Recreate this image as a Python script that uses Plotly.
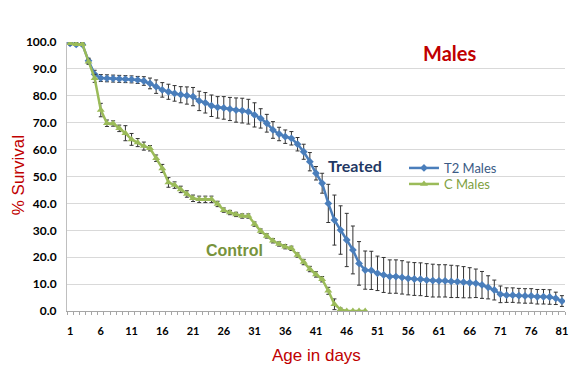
import plotly.graph_objects as go

days_t = list(range(1, 82))
treated = [99.5, 99.1, 99.1, 93.0, 88.0, 86.6, 86.5, 86.4, 86.3, 86.2,
           86.1, 85.9, 85.5, 84.6, 83.4, 82.2, 81.5, 80.9, 80.4, 80.1,
           79.7, 78.1, 77.4, 76.3, 75.7, 75.5, 75.1, 74.7, 74.5, 74.1,
           72.9, 71.6, 69.8, 67.3, 65.8, 64.8, 64.2, 62.0, 59.2, 55.5,
           51.2, 47.5, 40.0, 33.8, 30.1, 26.4, 22.7, 17.7, 15.2, 15.1,
           14.0, 13.4, 12.8, 12.8, 12.5, 12.1, 11.9, 11.8, 11.5, 11.3,
           11.2, 11.2, 11.0, 10.9, 10.7, 10.5, 10.3, 9.7, 8.8, 7.8,
           6.2, 5.9, 5.9, 5.7, 5.6, 5.6, 5.3, 5.3, 5.2, 4.7, 3.7]
treated_err = [0.5, 0.5, 0.5, 1.0, 1.5, 1.3, 1.3, 1.3, 1.3, 1.3,
               1.3, 1.3, 1.6, 2.0, 2.5, 2.7, 2.8, 2.9, 3.0, 3.2,
               3.4, 3.6, 3.8, 4.0, 4.0, 4.2, 4.3, 4.5, 4.6, 4.6,
               4.5, 3.6, 3.3, 3.1, 2.5, 2.5, 2.5, 2.5, 2.8, 3.4,
               2.5, 3.7, 7.1, 9.3, 9.0, 9.9, 8.9, 8.1, 7.1, 7.1,
               6.4, 6.5, 6.2, 6.2, 6.2, 6.1, 6.1, 6.1, 6.1, 6.1,
               6.0, 6.0, 6.0, 5.9, 5.8, 5.6, 5.3, 5.0, 4.3, 3.7,
               3.1, 2.7, 2.7, 2.7, 2.7, 2.7, 2.7, 2.7, 2.7, 2.3, 2.0]

days_c = list(range(1, 50))
control = [99.5, 99.2, 99.2, 92.7, 86.5, 74.7, 69.8, 69.7, 67.9, 66.1,
           63.8, 62.6, 61.3, 60.5, 56.8, 53.0, 47.8, 46.8, 45.2, 43.5,
           41.9, 41.5, 41.5, 41.5, 39.8, 37.5, 36.6, 35.9, 35.3, 35.3,
           32.3, 29.7, 27.9, 26.1, 24.9, 23.9, 23.3, 20.8, 18.2, 15.6,
           13.6, 11.8, 7.5, 2.5, 0.6, 0.0, 0.0, 0.0, 0.0]
control_err = [0.5, 0.5, 0.5, 1.0, 1.5, 2.5, 1.2, 1.0, 1.2, 2.8,
               2.2, 1.5, 1.5, 1.0, 1.2, 1.5, 1.8, 1.2, 1.2, 1.2,
               1.2, 1.2, 1.2, 1.2, 1.0, 0.8, 0.8, 0.8, 0.8, 0.8,
               0.8, 0.8, 0.8, 0.8, 0.8, 0.8, 0.8, 0.8, 1.0, 1.0,
               1.0, 1.0, 1.3, 2.0, 0.5, 0.0, 0.0, 0.0, 0.0]

x_tick_vals = list(range(1, 82, 5))
y_tick_vals = list(range(0, 101, 10))
y_tick_text = [f"{v:.1f}" for v in y_tick_vals]

BLUE = "#4A7EBB"
GREEN = "#9BBB59"
RED = "#C00000"

fig = go.Figure()
fig.add_trace(go.Scatter(
    x=days_t, y=treated, mode="lines+markers",
    name="<span style='color:#3B5B85'>T2 Males</span>",
    legend="legend",
    line=dict(color=BLUE, width=2.5),
    marker=dict(symbol="diamond", size=6, color=BLUE),
    error_y=dict(type="data", array=treated_err, visible=True,
                 color="#333333", thickness=1, width=2),
))
fig.add_trace(go.Scatter(
    x=days_c, y=control, mode="lines+markers",
    name="<span style='color:#7F9F3F'>C Males</span>",
    legend="legend2",
    line=dict(color=GREEN, width=2.5),
    marker=dict(symbol="triangle-up", size=7, color=GREEN),
    error_y=dict(type="data", array=control_err, visible=True,
                 color="#333333", thickness=1, width=2),
))

leg_common = dict(xanchor="left", yanchor="top",
                  font=dict(family="Lato", size=13), bgcolor="rgba(0,0,0,0)",
                  itemwidth=30)

fig.update_layout(
    width=580, height=370,
    margin=dict(l=67, r=12, t=42, b=59),
    paper_bgcolor="white", plot_bgcolor="white",
    showlegend=True,
    legend=dict(x=(406 - 67) / 501, y=(311 - 153) / 269, **leg_common),
    legend2=dict(x=(406 - 67) / 501, y=(311 - 169) / 269, **leg_common),
    xaxis=dict(range=[0.5, 81.5], tickmode="array", tickvals=x_tick_vals,
               ticktext=[str(v) for v in x_tick_vals], ticks="",
               showgrid=False, zeroline=False, showline=True,
               linecolor="#A6A6A6", linewidth=1,
               tickfont=dict(family="Lato", size=11, color="black", weight="bold"),
               minor=dict(tick0=0.5, dtick=1, ticks="outside", ticklen=3,
                          tickcolor="#A6A6A6", showgrid=False),
               ticklabelstandoff=10),
    yaxis=dict(range=[0, 100], tickmode="array", tickvals=y_tick_vals,
               ticktext=y_tick_text, ticks="",
               showgrid=True, gridcolor="#D9D9D9", gridwidth=1,
               zeroline=False, showline=True, linecolor="#BFBFBF", linewidth=1,
               tickfont=dict(family="Lato", size=12, color="black", weight="bold"),
               ticklabelstandoff=7),
    annotations=[
        dict(text="% Survival", xref="paper", yref="paper",
             x=(18 - 67) / 501, y=(311 - 175) / 269, textangle=-90,
             showarrow=False, xanchor="center", yanchor="middle",
             font=dict(family="Liberation Sans", size=17, color=RED)),
        dict(text="Age in days", xref="paper", yref="paper",
             x=(318 - 67) / 501, y=(311 - 355) / 269,
             showarrow=False, xanchor="center", yanchor="middle",
             font=dict(family="Liberation Sans", size=17, color=RED)),
        dict(text="<b>Males</b>", xref="paper", yref="paper",
             x=(452 - 67) / 501, y=(311 - 53) / 269,
             showarrow=False, xanchor="center", yanchor="middle",
             font=dict(family="Lato", size=20, color=RED)),
        dict(text="<b>Treated</b>", xref="paper", yref="paper",
             x=(357 - 67) / 501, y=(311 - 165) / 269,
             showarrow=False, xanchor="center", yanchor="middle",
             font=dict(family="Lato", size=16, color="#1F3864")),
        dict(text="<b>Control</b>", xref="paper", yref="paper",
             x=(236 - 67) / 501, y=(311 - 250) / 269,
             showarrow=False, xanchor="center", yanchor="middle",
             font=dict(family="Liberation Sans", size=16, color="#77933C")),
    ],
)

fig.write_html("out.html", config={"displayModeBar": False},
               post_script="document.body.style.margin='0';document.body.style.padding='0';")
